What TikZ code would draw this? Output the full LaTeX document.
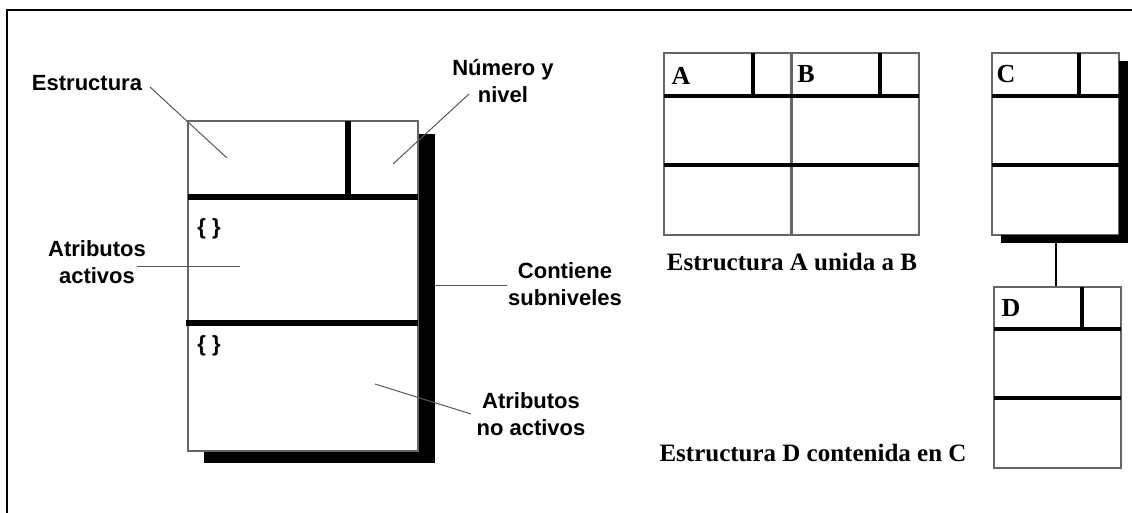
\documentclass[tikz,border=0pt]{standalone}
\usepackage{fontspec}
\setmainfont{Liberation Serif}
\setsansfont{Liberation Sans}
\usepackage{tikz}

\tikzset{
  caja/.style={draw=black!60, line width=0.6pt, inner sep=0pt},
  gruesa/.style={line width=3pt},
  media/.style={line width=1.6pt},
  guia/.style={draw=black!65, line width=0.5pt},
  rotulo/.style={font=\sffamily\bfseries\fontsize{11}{13.5}\selectfont, align=center},
  titulo/.style={font=\rmfamily\bfseries\fontsize{12.5}{15}\selectfont},
  letra/.style={font=\rmfamily\bfseries\fontsize{13}{15}\selectfont, inner sep=0pt}
}

\begin{document}
\begin{tikzpicture}[x=0.5pt,y=-0.5pt]
  \useasboundingbox (0,0) rectangle (1132,513);
  \clip (0,0) rectangle (1132,513);
  \draw[line width=1pt] (7,10) rectangle (1150,530);

  % estructura de la izquierda
  \fill (419,134) rectangle (435,463);
  \fill (204,451) rectangle (435,463);
  \node[caja, minimum width=115pt, minimum height=165pt](P) at (303,286) {};
  \draw[gruesa] (188,197) -- (418,197);
  \draw[gruesa] (348,121) -- (348,197);
  \draw[gruesa] (186,323) -- (418,323);
  \node[rotulo](L1) at (209,229) {\{ \}};
  \node[rotulo](L2) at (209,346) {\{ \}};

  % rotulos y lineas guia
  \node[rotulo](estr) at (87,83) {Estructura};
  \coordinate (estrpt) at (227,158);
  \draw[guia] ([shift={(63,4)}]estr.center) -- (estrpt);

  \node[rotulo](num) at (503,81) {Número y\\nivel};
  \coordinate (numpt) at (393,164);
  \draw[guia] ([shift={(-34,13)}]num.center) -- (numpt);

  \node[rotulo](act) at (97,262) {Atributos\\activos};
  \coordinate (actpt) at (240,267);
  \draw[guia] ([shift={(40,5)}]act.center) -- (actpt);

  \node[rotulo](sub) at (565,284) {Contiene\\subniveles};
  \coordinate (subpt) at (435,286);
  \draw[guia] ([shift={(-58,2)}]sub.center) -- (subpt);

  \node[rotulo](noact) at (531,414) {Atributos\\no activos};
  \coordinate (noactpt) at (375,384);
  \draw[guia] ([shift={(-60,0)}]noact.center) -- (noactpt);

  % A unida a B
  \node[caja, minimum width=63.5pt, minimum height=91pt](A) at (727.5,144) {};
  \node[caja, minimum width=63.5pt, minimum height=91pt](B) at (855.5,144) {};
  \draw[media] (664,96) -- (919,96);
  \draw[media] (664,165) -- (919,165);
  \draw[media] (753,53) -- (753,96);
  \draw[media] (880,53) -- (880,96);
  \node[letra](LA) at (681,76) {A};
  \node[letra](LB) at (806,74) {B};
  \node[titulo](tAB) at (792,262) {Estructura A unida a B};

  % D contenida en C
  \node[caja, minimum width=63.5pt, minimum height=91pt](C) at (1055.5,144) {};
  \node[caja, minimum width=63.5pt, minimum height=90.5pt](D) at (1057.5,377.5) {};
  \draw[line width=1pt] (C.south) -- (C.south |- D.north);
  \fill (1119,61) rectangle (1128,243);
  \fill (1001,235) rectangle (1128,243);
  \draw[media] (992,96) -- (1119,96);
  \draw[media] (992,165) -- (1119,165);
  \draw[media] (1079,53) -- (1079,96);
  \node[letra](LC) at (1006,74) {C};

  \draw[media] (994,329) -- (1121,329);
  \draw[media] (994,398) -- (1121,398);
  \draw[media] (1082,287) -- (1082,329);
  \node[letra](LD) at (1011,308) {D};
  \node[titulo](tCD) at (813,453) {Estructura D contenida en C};
\end{tikzpicture}
\end{document}
